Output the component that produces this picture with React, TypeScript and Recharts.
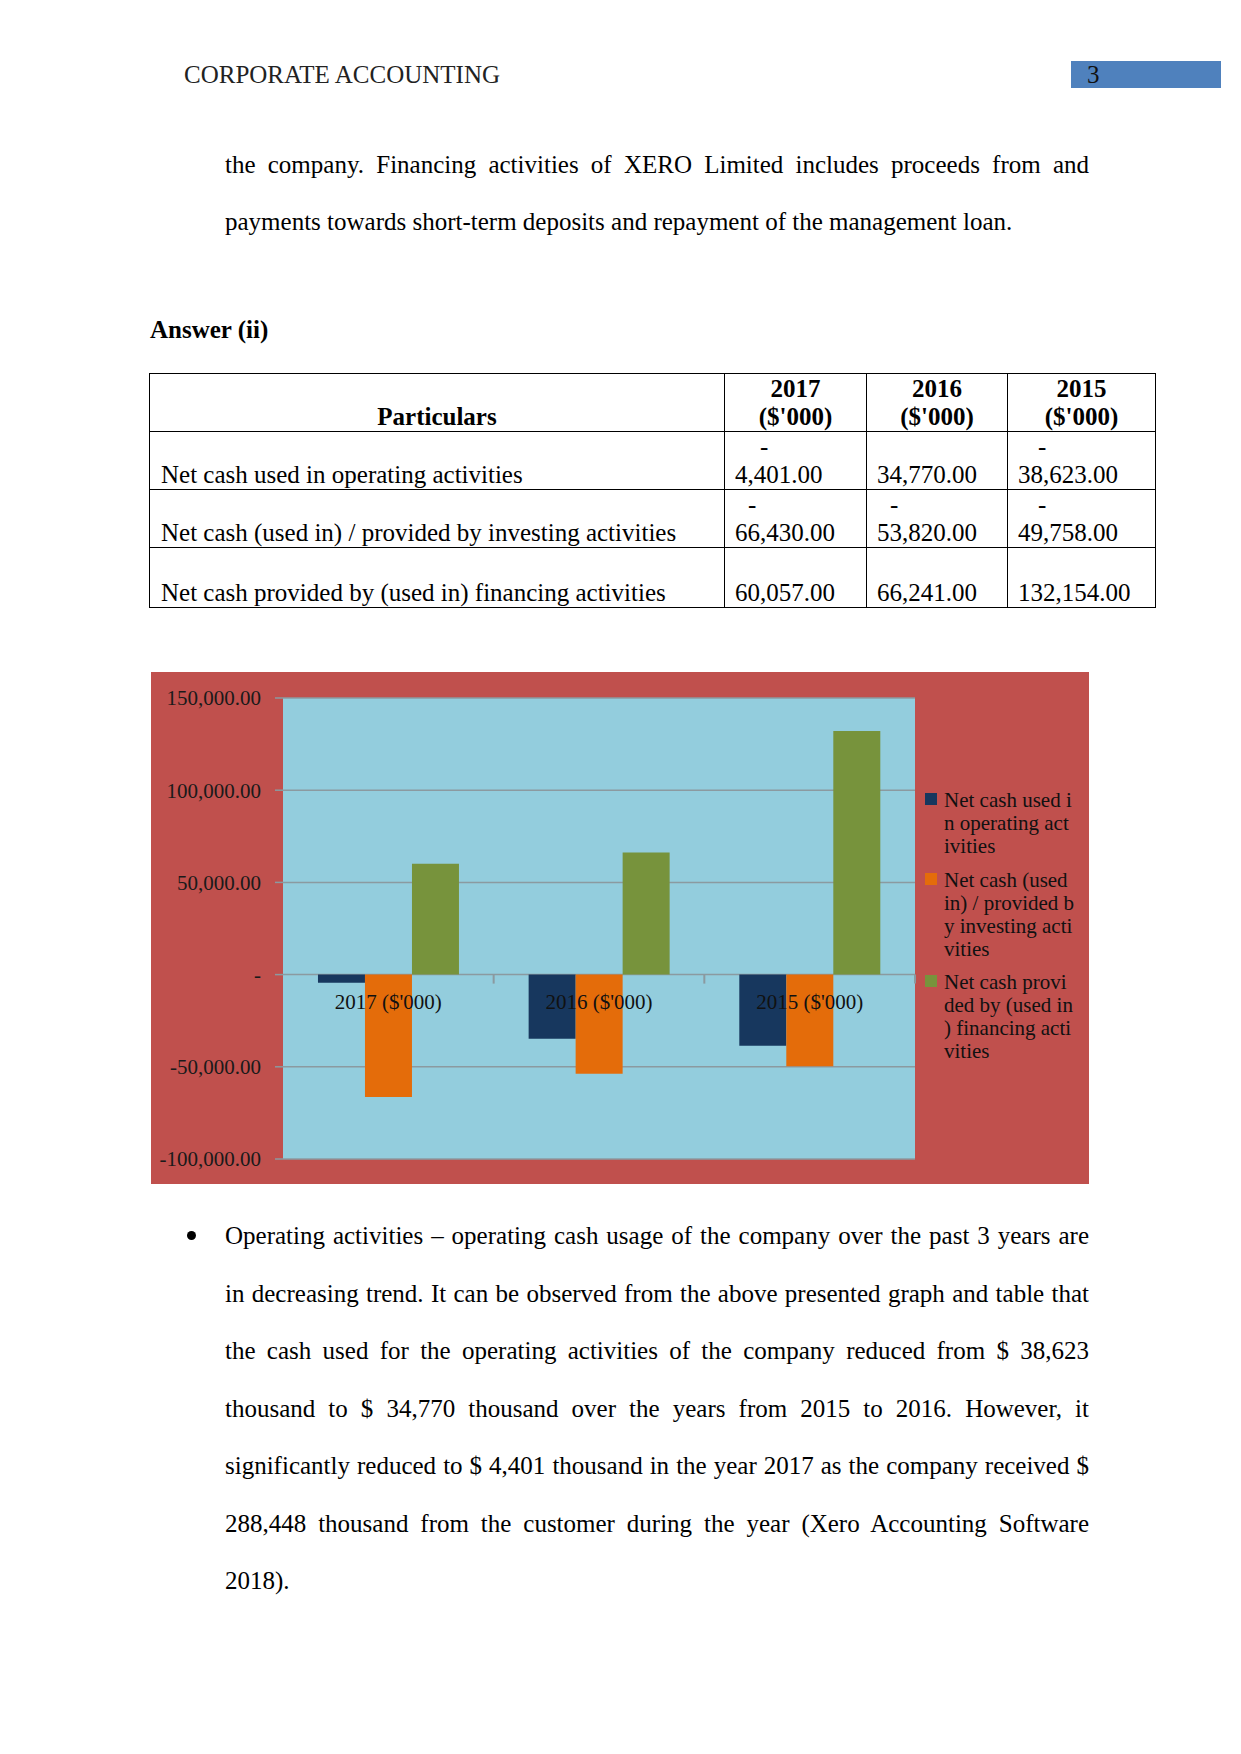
import { Bar, BarChart, CartesianGrid, ReferenceDot, XAxis, YAxis } from 'recharts'

const categories = ["2017 ($'000)", "2016 ($'000)", "2015 ($'000)"]
const operating = [-4401, -34770, -38623]
const investing = [-66430, -53820, -49758]
const financing = [60057, 66241, 132154]
const seriesNames = [
  'Net cash used in operating activities',
  'Net cash (used in) / provided by investing activities',
  'Net cash provided by (used in) financing activities',
]
const yTicks = [-100000, -50000, 0, 50000, 100000, 150000]
const legendLines = [
  ['Net cash used i', 'n operating act', 'ivities'],
  ['Net cash (used ', 'in) / provided b', 'y investing acti', 'vities'],
  ['Net cash provi', 'ded by (used in', ') financing acti', 'vities'],
]
const yearHeaders = ['2017', '2016', '2015']
// which table cells show the wrapped "-" sign (as in the source table)
const tableDash = [
  [true, false, true],
  [true, true, true],
  [false, false, false],
]
const introLines = [
  'the company. Financing activities of XERO Limited includes proceeds from and',
  'payments towards short-term deposits and repayment of the management loan.',
]
const bulletLines = [
  'Operating activities – operating cash usage of the company over the past 3 years are',
  'in decreasing trend. It can be observed from the above presented graph and table that',
  'the cash used for the operating activities of the company reduced from $ 38,623',
  'thousand to $ 34,770 thousand over the years from 2015 to 2016. However, it',
  'significantly reduced to $ 4,401 thousand in the year 2017 as the company received $',
  '288,448 thousand from the customer during the year (Xero Accounting Software',
  '2018).',
]

const colors = ['#17375e', '#e46c0a', '#77933c']
const gridColor = '#8b9aa0'
const serif = '"Liberation Serif", "Times New Roman", serif'

const chartData = categories.map((name, i) => ({
  name,
  operating: operating[i],
  investing: investing[i],
  financing: financing[i],
}))
const seriesKeys = ['operating', 'investing', 'financing']
const tableValues = [operating, investing, financing]

const CHART_W = 938
const CHART_H = 512
const Y_AXIS_W = 132
const RIGHT_M = 174
const HALF_BAND = (CHART_W - Y_AXIS_W - RIGHT_M) / categories.length / 2

const money = (v: number) =>
  Math.abs(v).toLocaleString('en-US', { minimumFractionDigits: 2, maximumFractionDigits: 2 })
const tickFmt = (v: number) =>
  v === 0 ? '-' : v.toLocaleString('en-US', { minimumFractionDigits: 2, maximumFractionDigits: 2 })

function CategoryMark({ cx, cy, name }: { cx?: number; cy?: number; name: string }) {
  if (cx == null || cy == null) return null
  return (
    <g>
      <line x1={cx + HALF_BAND} x2={cx + HALF_BAND} y1={cy} y2={cy + 9} stroke={gridColor} strokeWidth={2} />
      <text x={cx} y={cy + 27} dy="0.355em" textAnchor="middle" fontSize={21} fill="#111" fontFamily={serif}>
        {name}
      </text>
    </g>
  )
}

const textLine = (top: number, extra: React.CSSProperties = {}): React.CSSProperties => ({
  position: 'absolute',
  top,
  left: 225,
  width: 864,
  fontSize: 25,
  lineHeight: '30px',
  ...extra,
})

export default function App() {
  const dashIndent = [
    [25, 0, 20],
    [13, 13, 20],
    [0, 0, 0],
  ]
  return (
    <div
      style={{
        position: 'absolute',
        top: 0,
        left: 0,
        width: 1241,
        height: 1754,
        background: '#fff',
        fontFamily: serif,
        color: '#000',
      }}
    >
      <div style={{ position: 'absolute', top: 60, left: 184, fontSize: 25, lineHeight: '30px', color: '#222' }}>
        CORPORATE ACCOUNTING
      </div>
      <div style={{ position: 'absolute', top: 61, left: 1071, width: 150, height: 27, background: '#4f81bd' }}>
        <span style={{ position: 'absolute', left: 16, top: -1, fontSize: 25, lineHeight: '30px', color: '#111' }}>3</span>
      </div>

      {introLines.map((t, i) => (
        <div
          key={i}
          style={textLine(150 + i * 57, {
            textAlign: 'justify',
            textAlignLast: i < introLines.length - 1 ? 'justify' : 'left',
          })}
        >
          {t}
        </div>
      ))}

      <div style={{ position: 'absolute', top: 315, left: 150, fontSize: 25, lineHeight: '30px', fontWeight: 700 }}>
        Answer (ii)
      </div>

      <table
        style={{
          position: 'absolute',
          top: 373,
          left: 149,
          width: 1006,
          borderCollapse: 'collapse',
          fontSize: 25,
          lineHeight: '28px',
          tableLayout: 'fixed',
        }}
      >
        <colgroup>
          <col style={{ width: 575 }} />
          <col style={{ width: 142 }} />
          <col style={{ width: 141 }} />
          <col style={{ width: 148 }} />
        </colgroup>
        <tbody>
          <tr style={{ height: 58 }}>
            <td style={{ border: '1px solid #000', verticalAlign: 'bottom', textAlign: 'center', fontWeight: 700, padding: 0 }}>
              Particulars
            </td>
            {yearHeaders.map(y => (
              <td
                key={y}
                style={{ border: '1px solid #000', verticalAlign: 'bottom', textAlign: 'center', fontWeight: 700, padding: 0 }}
              >
                {y}
                <br />
                ($'000)
              </td>
            ))}
          </tr>
          {seriesNames.map((label, r) => (
            <tr key={label} style={{ height: r === 2 ? 60 : 58 }}>
              <td style={{ border: '1px solid #000', verticalAlign: 'bottom', padding: '0 0 0 11px' }}>{label}</td>
              {tableValues[r].map((v, c) => (
                <td key={c} style={{ border: '1px solid #000', verticalAlign: 'bottom', padding: '0 0 0 10px' }}>
                  {tableDash[r][c] ? <div style={{ paddingLeft: dashIndent[r][c] }}>-</div> : null}
                  <div>{money(v)}</div>
                </td>
              ))}
            </tr>
          ))}
        </tbody>
      </table>

      <div
        style={{
          position: 'absolute',
          top: 672,
          left: 151,
          width: CHART_W,
          height: CHART_H,
          background: '#c0504d',
        }}
      >
        <BarChart
          width={CHART_W}
          height={CHART_H}
          data={chartData}
          margin={{ top: 26, right: RIGHT_M, bottom: 25, left: 0 }}
          barCategoryGap="16.6%"
          barGap={0}
          style={{ fontFamily: serif }}
        >
          <CartesianGrid vertical={false} stroke={gridColor} strokeWidth={1.5} fill="#93cddd" fillOpacity={1} />
          <XAxis dataKey="name" hide />
          <YAxis
            domain={[-100000, 150000]}
            ticks={yTicks}
            interval={0}
            width={Y_AXIS_W}
            tickSize={8}
            tickMargin={14}
            axisLine={false}
            tickLine={{ stroke: gridColor, strokeWidth: 1.5 }}
            tick={{ fill: '#1a1a1a', fontSize: 21, fontFamily: serif }}
            tickFormatter={tickFmt}
          />
          {seriesKeys.map((k, i) => (
            <Bar key={k} dataKey={k} name={seriesNames[i]} fill={colors[i]} isAnimationActive={false} />
          ))}
          {categories.map(c => (
            <ReferenceDot
              key={c}
              x={c}
              y={0}
              r={0}
              ifOverflow="visible"
              shape={(p: any) => <CategoryMark cx={p.cx} cy={p.cy} name={c} />}
            />
          ))}
        </BarChart>
      </div>

      <div style={{ position: 'absolute', top: 789, left: 925, fontSize: 21, lineHeight: '23px', color: '#111' }}>
        {legendLines.map((lines, i) => (
          <div key={i} style={{ position: 'relative', paddingLeft: 19, marginBottom: 10.5 }}>
            <span
              style={{ position: 'absolute', left: 0, top: 4, width: 12, height: 12, background: colors[i] }}
            />
            {lines.map((l, j) => (
              <div key={j} style={{ whiteSpace: 'pre' }}>
                {l}
              </div>
            ))}
          </div>
        ))}
      </div>

      <div
        style={{
          position: 'absolute',
          top: 1231,
          left: 187,
          width: 9,
          height: 9,
          borderRadius: '50%',
          background: '#000',
        }}
      />
      {bulletLines.map((t, i) => (
        <div
          key={i}
          style={textLine(1221 + i * 57.5, {
            textAlign: 'justify',
            textAlignLast: i < bulletLines.length - 1 ? 'justify' : 'left',
          })}
        >
          {t}
        </div>
      ))}
    </div>
  )
}
